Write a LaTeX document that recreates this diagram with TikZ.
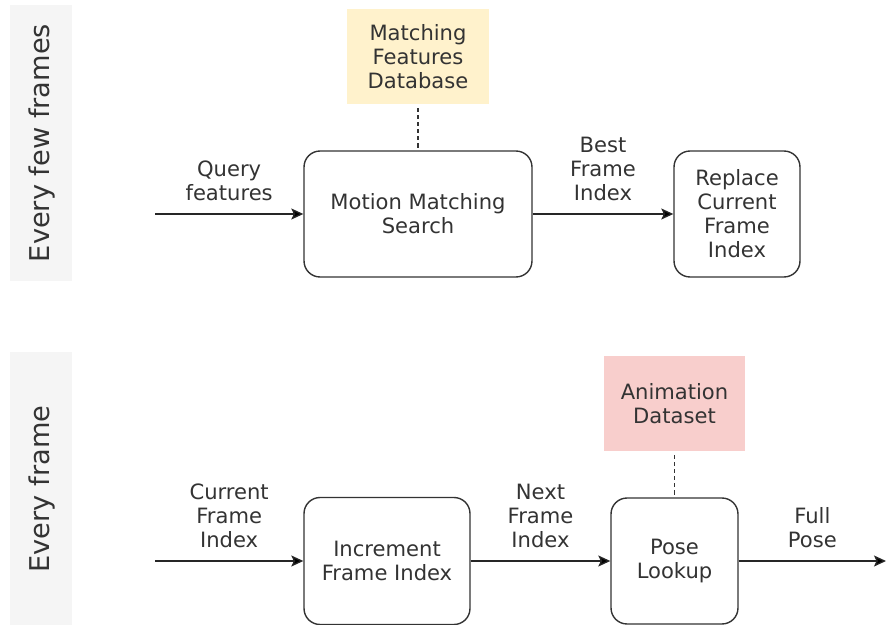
\documentclass[tikz,border=0pt]{standalone}
\usepackage{fontspec}
\setmainfont{DejaVu Sans}
\usetikzlibrary{arrows.meta,positioning}

\definecolor{dbyellow}{HTML}{FFF2CC}
\definecolor{dbred}{HTML}{F8CECC}
\definecolor{inkgray}{HTML}{333333}
\definecolor{bandgray}{HTML}{F5F5F5}

\tikzset{
    stage/.style={draw=inkgray, line width=0.8pt, rounded corners=0.32cm, align=center,
        text=inkgray, font=\fontsize{12}{13.7}\selectfont},
    store/.style={fill=#1, align=center, text=inkgray, minimum width=2.84cm, minimum height=1.9cm,
        font=\fontsize{12}{13.7}\selectfont},
    flow/.style={-{Stealth[length=0.24cm, width=0.22cm, inset=0.05cm, fill=black]}, line width=0.75pt, draw=black!85},
    link/.style={draw=inkgray, line width=0.6pt, dash pattern=on 2.3pt off 1.7pt},
    flowlabel/.style={align=center, text=inkgray, font=\fontsize{12}{13.7}\selectfont},
    bandlabel/.style={rotate=90, text=inkgray, font=\fontsize{15.5}{18}\selectfont}
}

\begin{document}
\begin{tikzpicture}[x=0.02cm, y=-0.02cm]
    \useasboundingbox (0,0) rectangle (886,625);

    % Grey side bands with their titles
    \fill[bandgray] (10,5) rectangle (72,281);
    \fill[bandgray] (10,352) rectangle (72,625);
    \node[bandlabel] (fewlbl) at (42,143) {Every few frames};
    \node[bandlabel] (eachlbl) at (42,489) {Every frame};

% EVERY FEW FRAMES
    % Define the loose end of the input arrow
    \coordinate (qin) at (155,214);

    % Draw the search box, its database and the replace box
    \node[stage, minimum width=4.56cm, minimum height=2.52cm] (search) at (418,214) {Motion Matching\\Search};
    \node[store=dbyellow] (featdb) at (418,56.5) {Matching\\Features\\Database};
    \node[stage, minimum width=2.52cm, minimum height=2.52cm] (replace) at (737,214) {Replace\\Current\\Frame\\Index};

    % Draw connectors
    \draw[link] (featdb.south) ++(0,4) -- (search.north);
    \draw[flow] (qin) -- (search.west) node[midway, above=4pt, flowlabel] {Query\\features};
    \draw[flow] (search.east) -- (replace.west) node[midway, above=4pt, flowlabel] {Best\\Frame\\Index};


% EVERY FRAME
    % Define the loose ends of the arrows
    \coordinate (cin) at (155,561);
    \coordinate (pout) at (886,561);

    % Draw the increment box, the lookup box and its dataset
    \node[stage, minimum width=3.32cm, minimum height=2.54cm] (incr) at (387,561) {Increment\\Frame Index};
    \node[stage, minimum width=2.54cm, minimum height=2.52cm] (lookup) at (674.5,561) {Pose\\Lookup};
    \node[store=dbred] (animdb) at (674.5,403.5) {Animation\\Dataset};

    % Draw connectors
    \draw[link] (animdb.south) ++(0,4) -- (lookup.north);
    \draw[flow] (cin) -- (incr.west) node[midway, above=4pt, flowlabel] {Current\\Frame\\Index};
    \draw[flow] (incr.east) -- (lookup.west) node[midway, above=4pt, flowlabel] {Next\\Frame\\Index};
    \draw[flow] (lookup.east) -- (pout) node[midway, above=4pt, flowlabel] {Full\\Pose};

\end{tikzpicture}
\end{document}
